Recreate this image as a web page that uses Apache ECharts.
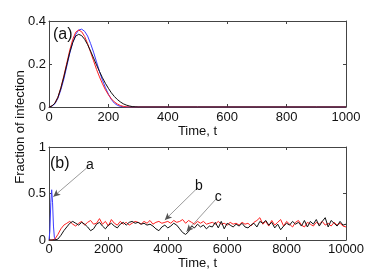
<!DOCTYPE html>
<html><head><meta charset="utf-8">
<script src="https://cdn.jsdelivr.net/npm/echarts@6/dist/echarts.min.js"></script>
<style>html,body{margin:0;padding:0;background:#fff}#c{width:382px;height:273px}</style>
</head><body><div id="c"></div>
<script>
// ---- Panel (a): t = 0..300 step 10, then zero to 1000
const tA = [0,10,20,30,40,50,60,70,80,90,100,110,120,130,140,150,160,170,180,190,200,210,220,230,240,250,260,270,280,290,300,400,500,600,700,800,900,1000];
const blueA = [0,0.004,0.015,0.04,0.08,0.13,0.19,0.25,0.30,0.338,0.358,0.362,0.352,0.33,0.295,0.255,0.21,0.165,0.125,0.09,0.06,0.035,0.018,0.008,0.003,0.001,0,0,0,0,0,0,0,0,0,0,0,0];
const redA = [0,0.005,0.018,0.045,0.09,0.145,0.205,0.265,0.315,0.348,0.358,0.35,0.328,0.295,0.255,0.215,0.175,0.14,0.108,0.08,0.057,0.038,0.024,0.014,0.007,0.003,0.001,0,0,0,0,0,0,0,0,0,0,0];
const blackA = [0,0.005,0.018,0.045,0.088,0.14,0.198,0.255,0.3,0.33,0.338,0.332,0.315,0.29,0.26,0.228,0.196,0.165,0.136,0.11,0.087,0.066,0.049,0.035,0.024,0.015,0.009,0.005,0.002,0.001,0,0,0,0,0,0,0,0];

// ---- Panel (b)
const tBlueB = [0,30,60,90,120,150,180,220];
const blueB = [0,0.1,0.4,0.54,0.4,0.15,0.03,0];
const tB = []; // 0..10000 step 100
for (let i = 0; i <= 100; i++) tB.push(i * 100);
const redB = [0,0,0.01,0.06,0.12,0.16,0.18,0.2,0.17,0.15,
  0.18,0.2,0.16,0.19,0.21,0.17,0.18,0.23,0.17,0.2,
  0.15,0.22,0.18,0.16,0.2,0.17,0.19,0.16,0.18,0.2,
  0.19,0.17,0.2,0.18,0.21,0.17,0.19,0.2,0.18,0.19,
  0.2,0.18,0.21,0.19,0.2,0.22,0.18,0.21,0.19,0.17,
  0.2,0.18,0.2,0.17,0.18,0.19,0.17,0.2,0.17,0.18,
  0.16,0.19,0.17,0.18,0.16,0.19,0.17,0.18,0.15,0.19,
  0.21,0.24,0.17,0.2,0.15,0.21,0.16,0.19,0.22,0.15,
  0.2,0.17,0.14,0.19,0.21,0.16,0.14,0.19,0.17,0.15,
  0.19,0.17,0.2,0.16,0.18,0.15,0.19,0.16,0.18,0.15,0.14];
const blackB = [0,0,0,0.01,0.05,0.1,0.14,0.18,0.2,0.18,
  0.16,0.19,0.17,0.14,0.1,0.12,0.17,0.19,0.15,0.12,
  0.16,0.18,0.15,0.13,0.17,0.19,0.16,0.19,0.2,0.18,
  0.19,0.17,0.18,0.16,0.17,0.15,0.12,0.1,0.14,0.16,
  0.13,0.15,0.18,0.16,0.12,0.08,0.06,0.09,0.15,0.13,
  0.17,0.14,0.16,0.12,0.15,0.14,0.19,0.13,0.2,0.12,
  0.18,0.16,0.14,0.17,0.15,0.18,0.14,0.13,0.16,0.18,
  0.14,0.2,0.18,0.21,0.16,0.19,0.13,0.17,0.11,0.15,
  0.18,0.16,0.2,0.17,0.19,0.15,0.21,0.14,0.2,0.17,
  0.22,0.15,0.2,0.24,0.14,0.21,0.18,0.15,0.2,0.16,0.17];

// annotations: [label, lineStartX, lineStartY, tipX, tipY]
const notes = [
  ['a', 1325, 0.79, 145, 0.466],
  ['b', 5000, 0.56, 3900, 0.215],
  ['c', 5650, 0.45, 4630, 0.09]
];

const zip = (xs, ys) => xs.map((x, i) => [x, ys[i]]);
const F = 'Liberation Sans, Arial, Helvetica, sans-serif';
const txt = '#111';
const axCol = '#444';
const plain = v => String(v);

function xAx(grid, max, interval, nameGap, margin) {
  return [{
    type: 'value', gridIndex: grid, min: 0, max: max, interval: interval,
    name: 'Time, t', nameLocation: 'middle', nameGap: nameGap,
    nameTextStyle: {fontFamily: F, fontSize: 13, color: txt},
    axisLine: {show: true, onZero: false, lineStyle: {color: axCol, width: 1}},
    axisTick: {show: true, inside: true, length: 3, lineStyle: {color: axCol}},
    axisLabel: {fontFamily: F, fontSize: 13, color: txt, margin: margin, formatter: plain},
    splitLine: {show: false}
  }, {
    type: 'value', gridIndex: grid, position: 'top', min: 0, max: max, interval: interval,
    axisLine: {show: true, onZero: false, lineStyle: {color: axCol, width: 1}},
    axisTick: {show: true, inside: true, length: 3, lineStyle: {color: axCol}},
    axisLabel: {show: false}, splitLine: {show: false}
  }];
}
function yAx(grid, max, interval) {
  return [{
    type: 'value', gridIndex: grid, min: 0, max: max, interval: interval,
    axisLine: {show: true, onZero: false, lineStyle: {color: axCol, width: 1}},
    axisTick: {show: true, inside: true, length: 3, lineStyle: {color: axCol}},
    axisLabel: {fontFamily: F, fontSize: 13, color: txt, margin: 3, formatter: plain},
    splitLine: {show: false}
  }, {
    type: 'value', gridIndex: grid, position: 'right', min: 0, max: max, interval: interval,
    axisLine: {show: true, onZero: false, lineStyle: {color: axCol, width: 1}},
    axisTick: {show: true, inside: true, length: 3, lineStyle: {color: axCol}},
    axisLabel: {show: false}, splitLine: {show: false}
  }];
}

function line(xi, yi, data, color) {
  return {type: 'line', xAxisIndex: xi, yAxisIndex: yi, data: data, showSymbol: false,
    symbol: 'none', lineStyle: {color: color, width: 1}, silent: true, animation: false, clip: true};
}

const chart = echarts.init(document.getElementById('c'), null, {renderer: 'canvas'});
chart.setOption({
  animation: false,
  backgroundColor: '#fff',
  grid: [
    {left: 49, right: 36, top: 21, height: 86},
    {left: 49, right: 36, top: 147, height: 93}
  ],
  xAxis: [].concat(xAx(0, 1000, 200, 15, 4), xAx(1, 10000, 2000, 16, 3)),
  yAxis: [].concat(yAx(0, 0.4, 0.2), yAx(1, 1, 0.5)),
  graphic: [
    {type: 'text', left: 53, top: 27, style: {text: '(a)', font: '16px ' + F, fill: txt}},
    {type: 'text', left: 50, top: 156, style: {text: '(b)', font: '16px ' + F, fill: txt}},
    {type: 'text', x: 20, y: 127, rotation: Math.PI / 2,
      style: {text: 'Fraction of infection', font: '13px ' + F, fill: txt, align: 'center', verticalAlign: 'middle'}}
  ],
  series: [
    line(0, 0, zip(tA, blueA), '#3b3bff'),
    line(0, 0, zip(tA, redA), '#ff2020'),
    line(0, 0, zip(tA, blackA), '#111111'),
    line(2, 2, zip(tBlueB, blueB), '#3b3bff'),
    line(2, 2, zip(tB, redB), '#ff2020'),
    Object.assign(line(2, 2, zip(tB, blackB), '#111111'), {
      markLine: {
        silent: true, animation: false, symbol: ['none', 'arrow'], symbolSize: [5, 7],
        lineStyle: {color: '#555', width: 0.6, type: 'solid'},
        label: {show: true, position: 'start', distance: 2, fontFamily: F, fontSize: 14, color: txt,
          formatter: p => p.name},
        data: notes.map(n => [
          {name: n[0], coord: [n[1], n[2]]},
          {coord: [n[3], n[4]]}
        ])
      }
    })
  ]
});
</script></body></html>
